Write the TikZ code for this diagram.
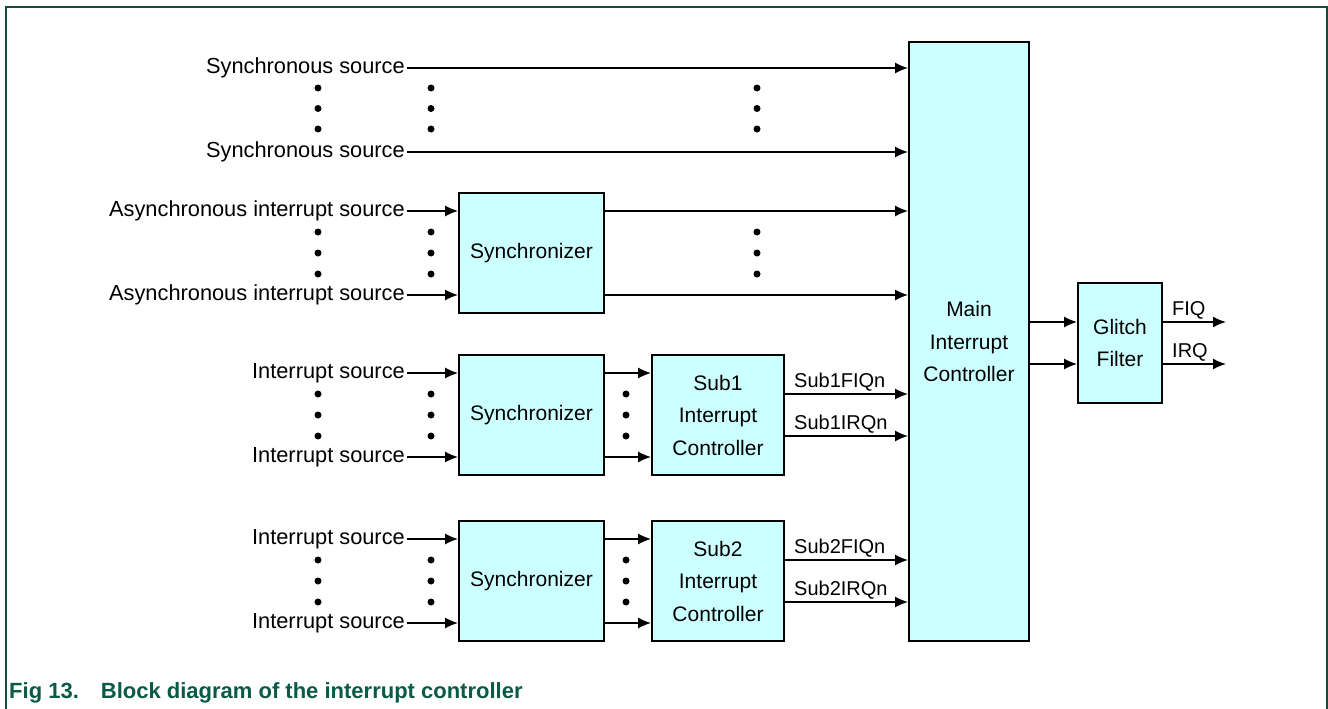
\documentclass[tikz,border=0pt]{standalone}
\usepackage{fontspec}
\setmainfont{Liberation Sans}
\usetikzlibrary{arrows.meta,calc}
\definecolor{boxfill}{HTML}{CCFFFF}
\definecolor{framegreen}{HTML}{0F4D3A}
\definecolor{capgreen}{HTML}{0B5A45}
\begin{document}
\begin{tikzpicture}[x=1pt,y=-1pt,
  blk/.style={draw=black,line width=1.8pt,fill=boxfill,align=center,inner sep=0pt,
     font=\fontsize{21}{32.5}\selectfont},
  src/.style={anchor=east,inner sep=2pt,font=\fontsize{21.8}{24}\selectfont},
  sig/.style={anchor=south west,inner sep=1pt,font=\fontsize{20}{22}\selectfont},
  conn/.style={line width=1.6pt,-{Latex[length=13pt,width=11pt]}},
  dotmark/.style={fill=black,circle,inner sep=0pt,minimum size=7pt}
]
\useasboundingbox (0,0) rectangle (1328,709);
% frame
\draw[framegreen,line width=2pt] (6,709) -- (6,7) -- (1327,7) -- (1327,709);
% blocks
\node[blk,minimum width=120pt,minimum height=599pt] (main) at (969,341.5) {Main\\Interrupt\\Controller};
\node[blk,minimum width=84pt,minimum height=120pt] (glitch) at (1120,343) {Glitch\\Filter};
\node[blk,minimum width=145pt,minimum height=120pt] (sy1) at (531.5,253) {Synchronizer};
\node[blk,minimum width=145pt,minimum height=120pt] (sy2) at (531.5,415) {Synchronizer};
\node[blk,minimum width=145pt,minimum height=120pt] (sy3) at (531.5,581) {Synchronizer};
\node[blk,minimum width=132pt,minimum height=120pt] (sub1) at (718,415) {Sub1\\Interrupt\\Controller};
\node[blk,minimum width=132pt,minimum height=120pt] (sub2) at (718,581) {Sub2\\Interrupt\\Controller};
% sources
\node[src] (ss1) at (407,68) {Synchronous source};
\node[src] (ss2) at (407,152) {Synchronous source};
\node[src] (as1) at (407,211) {Asynchronous interrupt source};
\node[src] (as2) at (407,295) {Asynchronous interrupt source};
\node[src] (is1) at (407,373) {Interrupt source};
\node[src] (is2) at (407,457) {Interrupt source};
\node[src] (is3) at (407,539) {Interrupt source};
\node[src] (is4) at (407,623) {Interrupt source};
% connectors
\draw[conn] (ss1.east) -- (ss1.east -| main.west);
\draw[conn] (ss2.east) -- (ss2.east -| main.west);
\draw[conn] (as1.east) -- (as1.east -| sy1.west);
\draw[conn] (as2.east) -- (as2.east -| sy1.west);
\draw[conn] (as1.east -| sy1.east) -- (as1.east -| main.west);
\draw[conn] (as2.east -| sy1.east) -- (as2.east -| main.west);
\draw[conn] (is1.east) -- (is1.east -| sy2.west);
\draw[conn] (is2.east) -- (is2.east -| sy2.west);
\draw[conn] (is1.east -| sy2.east) -- (is1.east -| sub1.west);
\draw[conn] (is2.east -| sy2.east) -- (is2.east -| sub1.west);
\draw[conn] (is3.east) -- (is3.east -| sy3.west);
\draw[conn] (is4.east) -- (is4.east -| sy3.west);
\draw[conn] (is3.east -| sy3.east) -- (is3.east -| sub2.west);
\draw[conn] (is4.east -| sy3.east) -- (is4.east -| sub2.west);
% sub outputs
\coordinate (s1f) at (784,394);
\coordinate (s1i) at (784,436);
\coordinate (s2f) at (784,560);
\coordinate (s2i) at (784,602);
\draw[conn] (s1f) -- (s1f -| main.west);
\draw[conn] (s1i) -- (s1i -| main.west);
\draw[conn] (s2f) -- (s2f -| main.west);
\draw[conn] (s2i) -- (s2i -| main.west);
\node[sig] (l1) at (793,392) {Sub1FIQn};
\node[sig] (l2) at (793,434) {Sub1IRQn};
\node[sig] (l3) at (793,558) {Sub2FIQn};
\node[sig] (l4) at (793,600) {Sub2IRQn};
% main to glitch
\coordinate (m1) at (1030,322);
\coordinate (m2) at (1030,364);
\draw[conn] (m1) -- (m1 -| glitch.west);
\draw[conn] (m2) -- (m2 -| glitch.west);
\coordinate (fiqend) at (1226,322);
\coordinate (irqend) at (1226,364);
\draw[conn] (fiqend -| glitch.east) -- (fiqend);
\draw[conn] (irqend -| glitch.east) -- (irqend);
\node[sig] (lf) at (1171,320) {FIQ};
\node[sig] (li) at (1171,362) {IRQ};
% dots
\foreach \x in {318,431,757}{
  \foreach \y in {88,108.5,129,232,253,274}{
    \node[dotmark] at (\x,\y) {};
  }
}
\foreach \x in {318,431,626}{
  \foreach \y in {394,415,436,560,581,602}{
    \node[dotmark] at (\x,\y) {};
  }
}
% caption
\node[anchor=base west,inner sep=0pt,text=capgreen,font=\fontsize{22}{24}\selectfont\bfseries] (cap) at (9,698)
  {Fig 13.\hspace{22pt}Block diagram of the interrupt controller};
\end{tikzpicture}
\end{document}
